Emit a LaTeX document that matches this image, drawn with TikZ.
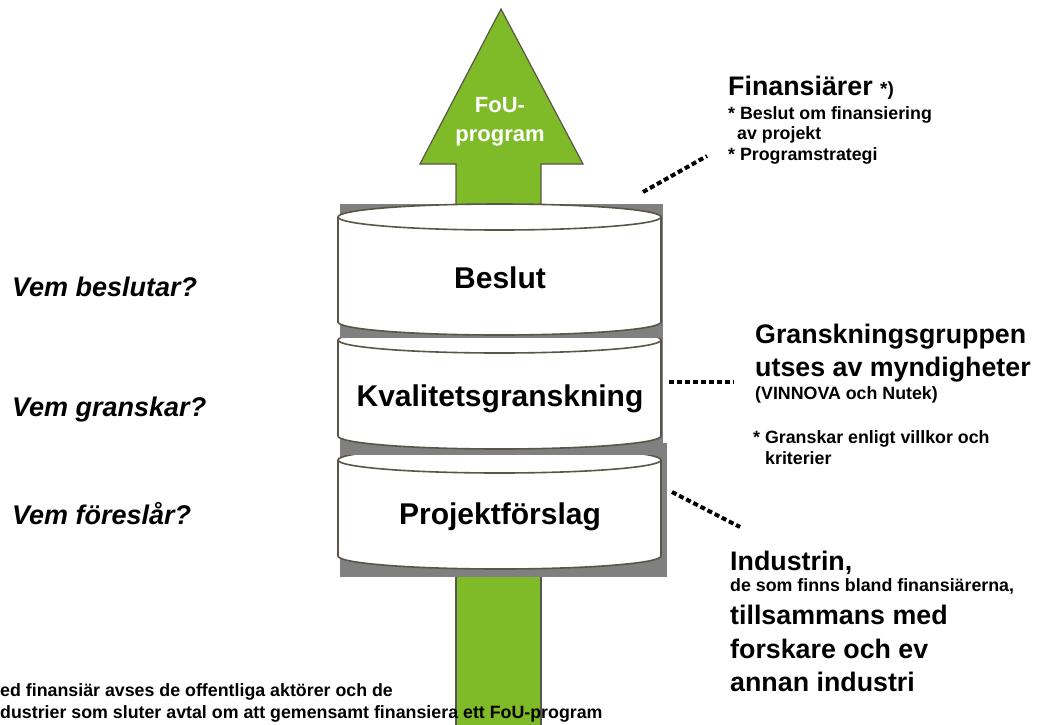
\documentclass[tikz,border=0pt]{standalone}
\usepackage{fontspec}
\setmainfont{Liberation Sans}
\usetikzlibrary{positioning}
\definecolor{fougreen}{RGB}{127,186,40}
\definecolor{rimgray}{RGB}{90,85,72}
\definecolor{shadegray}{RGB}{128,128,128}

\begin{document}
\begin{tikzpicture}[x=1pt, y=1pt,
    disk/.style={fill=white, draw=rimgray, line width=1.6pt},
    shade/.style={fill=shadegray},
    stem/.style={fill=fougreen, draw=rimgray, line width=1.2pt},
    title/.style={font=\fontsize{30}{34}\selectfont\bfseries, inner sep=0pt, anchor=base},
    arrowtxt/.style={font=\fontsize{22}{26}\selectfont\bfseries, text=white, inner sep=0pt, anchor=base},
    question/.style={font=\fontsize{27}{30}\selectfont\bfseries\itshape, inner sep=0pt, anchor=base west},
    big/.style={font=\fontsize{26.8}{30}\selectfont\bfseries, inner sep=0pt, anchor=base west},
    small/.style={font=\fontsize{17.8}{20}\selectfont\bfseries, inner sep=0pt, anchor=base west},
    link/.style={line width=4pt, dash pattern=on 5pt off 3pt}
]
    \useasboundingbox (0,0) rectangle (1045,-724);

    % green stems
    \draw[stem] (456,-565) rectangle (541,-727);
    \draw[stem] (501,-9) -- (583,-164) -- (541,-164) -- (541,-215)
        -- (456,-215) -- (456,-164) -- (420,-164) -- cycle;

    % stacked disks, lowest first
    \foreach \yt/\yb/\sa/\sb/\sr in {460/556/443/577/667, 340/436/335/455/663, 217/322/204/338/663} {
        \fill[shade] (340,-\sa) rectangle (\sr,-\sb);
        \draw[disk] (338,-\yt) -- (338,-\yb) arc (180:360:161.5 and 13)
            -- (661,-\yt) arc (0:180:161.5 and 13) -- cycle;
        \draw[rimgray, line width=1.6pt] (338,-\yt) arc (180:360:161.5 and 13);
    }

    \node[title] (beslut) at (500,-288) {Beslut};
    \node[title] (kvalitet) at (500,-406) {Kvalitetsgranskning};
    \node[title] (forslag) at (500,-524) {Projektförslag};

    \node[arrowtxt] (fou) at (500,-112) {FoU-};
    \node[arrowtxt] (program) at (500,-141) {program};

    % questions
    \node[question] (vem1) at (12,-296) {Vem beslutar?};
    \node[question] (vem2) at (12,-416) {Vem granskar?};
    \node[question] (vem3) at (12,-524) {Vem föreslår?};

    % financiers
    \node[big] (fin) at (728,-95) {Finansiärer {\fontsize{19}{20}\selectfont *)}};
    \node[small] (fin1) at (728,-119) {* Beslut om finansiering};
    \node[small] (fin2) at (737,-139) {av projekt};
    \node[small] (fin3) at (728,-160) {* Programstrategi};

    % reviewers
    \node[big] (gr) at (755,-343) {Granskningsgruppen};
    \node[big] (gr1) at (755,-376) {utses av myndigheter};
    \node[small] (gr2) at (755,-399) {(VINNOVA och Nutek)};
    \node[small] (gr3) at (753,-443) {* Granskar enligt villkor och};
    \node[small] (gr4) at (765,-464) {kriterier};

    % industry
    \node[big] (ind) at (730,-570) {Industrin,};
    \node[small] (ind1) at (730,-591) {de som finns bland finansiärerna,};
    \node[big] (ind2) at (730,-624) {tillsammans med};
    \node[big] (ind3) at (730,-658) {forskare och ev};
    \node[big] (ind4) at (730,-691) {annan industri};

    % footnote
    \node[small] (note1) at (0,-696) {ed finansiär avses de offentliga aktörer och de};
    \node[small] (note2) at (0,-718) {dustrier som sluter avtal om att gemensamt finansiera ett FoU-program};

    % dotted links
    \coordinate (finA) at (643,-192);
    \coordinate (finB) at (707,-156);
    \coordinate (grA) at (669,-382);
    \coordinate (grB) at (734,-382);
    \coordinate (indA) at (672,-492);
    \coordinate (indB) at (740,-527);
    \draw[link] (finA) -- (finB);
    \draw[link] (grA) -- (grB);
    \draw[link] (indA) -- (indB);
\end{tikzpicture}
\end{document}
